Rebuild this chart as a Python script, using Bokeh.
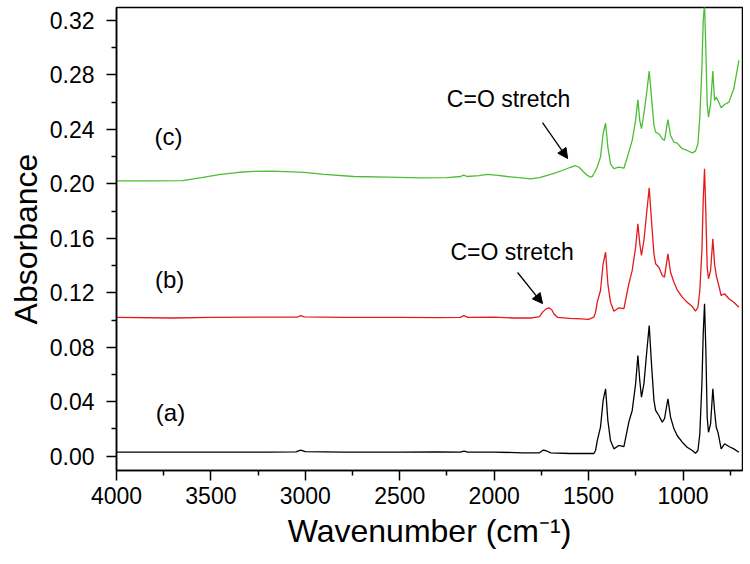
from bokeh.plotting import figure
from bokeh.models import Range1d, FixedTicker, PrintfTickFormatter, Label, Arrow, NormalHead
from bokeh.embed import file_html
from bokeh.resources import INLINE

# ---------------- data ----------------
wn_fp = [1472, 1463, 1454, 1437, 1423, 1410, 1398, 1384, 1366, 1340,
         1313, 1287, 1269, 1251, 1239, 1229, 1220, 1207, 1193, 1179,
         1167, 1154, 1145, 1128, 1110, 1098, 1080, 1066, 1048, 1031,
         1004, 978, 951, 934, 921, 911, 900, 893, 886, 879,
         872, 865, 854, 842, 833, 824, 815, 798, 780, 757,
         731, 704]

wn_a_left = [4000, 3700, 3500, 3200, 3050, 3025, 3000, 2800, 2500, 2300,
             2180, 2160, 2140, 2000, 1850, 1760, 1740, 1725, 1700, 1600, 1500]
abs_a_left = [0.003, 0.003, 0.003, 0.003, 0.0032, 0.0045, 0.0033, 0.003, 0.003, 0.0032,
              0.003, 0.0038, 0.003, 0.003, 0.0025, 0.0025, 0.0045, 0.004, 0.0025, 0.002, 0.002]
abs_a_fp = [0.002, 0.0042, 0.0115, 0.0213, 0.041, 0.0495, 0.0262, 0.0115, 0.0054, 0.0079,
            0.0071, 0.025, 0.0336, 0.0532, 0.074, 0.0556, 0.0433, 0.0532, 0.0752, 0.096,
            0.0679, 0.041, 0.0336, 0.0299, 0.025, 0.0275, 0.0422, 0.0287, 0.0201, 0.0152,
            0.0103, 0.0066, 0.0042, 0.0022, 0.0042, 0.0165, 0.0532, 0.0899, 0.1119, 0.0776,
            0.0286, 0.0176, 0.0238, 0.0495, 0.0336, 0.0213, 0.0176, 0.0054, 0.0091, 0.0071,
            0.0054, 0.0029]

wn_b_left = [4000, 3700, 3500, 3100, 3040, 3025, 3005, 2800, 2500, 2300,
             2180, 2160, 2140, 2000, 1900, 1800, 1760, 1745, 1725, 1710,
             1695, 1684, 1665, 1600, 1540, 1500]
abs_b_left = [0.102, 0.1015, 0.102, 0.1022, 0.1022, 0.1033, 0.1023, 0.102, 0.102, 0.1018,
              0.102, 0.1032, 0.102, 0.1022, 0.1015, 0.1015, 0.1025, 0.1056, 0.1082, 0.109,
              0.1075, 0.1046, 0.102, 0.1012, 0.1008, 0.1005]
abs_b_fp = [0.1021, 0.1058, 0.1131, 0.1217, 0.1413, 0.1498, 0.1266, 0.1131, 0.1065, 0.109,
            0.1083, 0.1266, 0.1364, 0.1535, 0.1707, 0.156, 0.1474, 0.1584, 0.178, 0.1971,
            0.1731, 0.1486, 0.1413, 0.1388, 0.1327, 0.1315, 0.1486, 0.1351, 0.1278, 0.1222,
            0.1168, 0.1131, 0.1099, 0.1065, 0.1094, 0.1217, 0.1511, 0.1878, 0.2111, 0.178,
            0.1388, 0.1303, 0.1364, 0.1597, 0.1413, 0.1327, 0.1278, 0.118, 0.1193, 0.1156,
            0.1131, 0.1094]

wn_c_left = [4000, 3800, 3650, 3550, 3449, 3350, 3273, 3184, 3100, 3008,
             2900, 2743, 2566, 2390, 2250, 2178, 2161, 2143, 2080, 2037,
             1980, 1931, 1870, 1808, 1760, 1719, 1680, 1640, 1600, 1569,
             1550, 1534, 1510, 1490, 1480]
abs_c_left = [0.2022, 0.2022, 0.2024, 0.2045, 0.2069, 0.2085, 0.2091, 0.2093, 0.209, 0.2084,
              0.207, 0.2054, 0.2049, 0.2044, 0.2045, 0.2054, 0.2064, 0.2054, 0.206, 0.2069,
              0.2062, 0.2054, 0.2045, 0.2037, 0.2045, 0.2062, 0.2078, 0.2098, 0.212, 0.2133,
              0.2122, 0.2098, 0.2065, 0.2049, 0.2055]
abs_c_fp = [0.2074, 0.2098, 0.2125, 0.2196, 0.2368, 0.2446, 0.2269, 0.2147, 0.2111, 0.2123,
            0.2115, 0.2233, 0.2319, 0.2466, 0.2618, 0.2466, 0.2405, 0.2515, 0.2662, 0.2828,
            0.2637, 0.2429, 0.238, 0.2368, 0.2331, 0.2319, 0.2471, 0.2355, 0.2306, 0.2299,
            0.2258, 0.2245, 0.2228, 0.224, 0.2294, 0.249, 0.2857, 0.32, 0.332, 0.298,
            0.2588, 0.249, 0.2588, 0.2828, 0.2612, 0.2637, 0.2612, 0.2559, 0.2583, 0.26,
            0.2698, 0.2906]

x_ticks = [4000, 3500, 3000, 2500, 2000, 1500, 1000]
x_minor = [3750, 3250, 2750, 2250, 1750, 1250, 750]
y_ticks = [0.00, 0.04, 0.08, 0.12, 0.16, 0.20, 0.24, 0.28, 0.32]
y_minor = [0.02, 0.06, 0.10, 0.14, 0.18, 0.22, 0.26, 0.30]

trace_labels = ["(a)", "(b)", "(c)"]
trace_label_x = [3714, 3719, 3725]
trace_label_y = [0.0321, 0.1297, 0.2347]

co_text = ["C=O stretch", "C=O stretch"]
co_text_x = [1905, 1924]
co_text_y = [0.1496, 0.2626]
arrow_x0 = [1876, 1744]
arrow_y0 = [0.1349, 0.245]
arrow_x1 = [1744, 1611]
arrow_y1 = [0.1121, 0.2186]

# ---------------- figure ----------------
FONT = "Liberation Sans"
p = figure(frame_width=626, frame_height=463,
           x_range=Range1d(4000, 685), y_range=Range1d(-0.0105, 0.3295),
           output_backend="svg", toolbar_location=None,
           min_border_left=116, min_border_right=1, min_border_top=7, min_border_bottom=86,
           background_fill_color="white", border_fill_color="white")

p.grid.visible = False
p.outline_line_color = "black"
p.outline_line_width = 1.5
p.outline_line_alpha = 1.0

for ax in (p.xaxis[0], p.yaxis[0]):
    ax.axis_line_width = 1.5
    ax.axis_line_color = "black"
    ax.major_tick_line_width = 1.5
    ax.minor_tick_line_width = 1.5
    ax.major_tick_line_color = "black"
    ax.minor_tick_line_color = "black"
    ax.major_tick_in = 0
    ax.major_tick_out = 10
    ax.minor_tick_in = 0
    ax.minor_tick_out = 5
    ax.major_label_text_font = FONT
    ax.major_label_text_font_size = "23px"
    ax.major_label_text_color = "black"
    ax.axis_label_text_font = FONT
    ax.axis_label_text_font_style = "normal"
    ax.axis_label_text_color = "black"
    ax.axis_label_text_font_size = "32px"

p.xaxis.ticker = FixedTicker(ticks=x_ticks, minor_ticks=x_minor)
p.xaxis.formatter = PrintfTickFormatter(format="%d")
p.xaxis.major_label_standoff = 6
p.xaxis.axis_label = "Wavenumber (cm\u207b\u00b9)"
p.xaxis.axis_label_standoff = 6

p.yaxis.ticker = FixedTicker(ticks=y_ticks, minor_ticks=y_minor)
p.yaxis.formatter = PrintfTickFormatter(format="%.2f")
p.yaxis.major_label_standoff = 12
p.yaxis.axis_label = "Absorbance"
p.yaxis.axis_label_standoff = 3

p.line(wn_a_left + wn_fp, abs_a_left + abs_a_fp, line_color="black", line_width=1.3)
p.line(wn_b_left + wn_fp, abs_b_left + abs_b_fp, line_color="#e3191c", line_width=1.3)
p.line(wn_c_left + wn_fp, abs_c_left + abs_c_fp, line_color="#4dbd33", line_width=1.3)

for t, x, y in zip(trace_labels, trace_label_x, trace_label_y):
    p.add_layout(Label(x=x, y=y, text=t, text_font=FONT, text_font_size="24px",
                       text_align="center", text_baseline="middle", text_color="black"))

for t, x, y in zip(co_text, co_text_x, co_text_y):
    p.add_layout(Label(x=x, y=y, text=t, text_font=FONT, text_font_size="23px",
                       text_align="center", text_baseline="middle", text_color="black"))

for x0, y0, x1, y1 in zip(arrow_x0, arrow_y0, arrow_x1, arrow_y1):
    p.add_layout(Arrow(end=NormalHead(size=10, fill_color="black", line_color="black", line_width=1),
                       x_start=x0, y_start=y0, x_end=x1, y_end=y1,
                       line_color="black", line_width=1.3))

open("out.html", "w").write(file_html(p, INLINE))
